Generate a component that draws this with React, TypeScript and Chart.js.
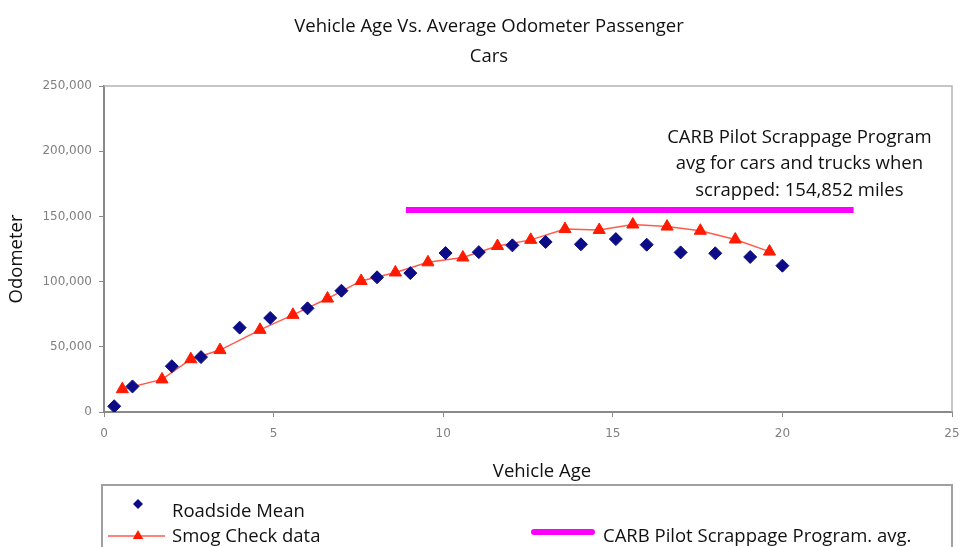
import React, { useEffect, useRef } from "react";
import { Chart, registerables } from "chart.js";

Chart.register(...registerables);

// ---------- Data ----------
const TITLE_LINES = ["Vehicle Age Vs. Average Odometer Passenger", "Cars"];
const X_TITLE = "Vehicle Age";
const Y_TITLE = "Odometer";
const NOTE_LINES = [
  "CARB Pilot Scrappage Program",
  "avg for cars and trucks when",
  "scrapped: 154,852 miles",
];

const roadsideLabel = "Roadside Mean";
const roadsideAge = [0.3, 0.84, 2, 2.86, 4, 4.9, 6, 7, 8.05, 9.03, 10.07, 11.05, 12.04, 13.02, 14.06, 15.09, 16, 17, 18.02, 19.05, 20];
const roadsideOdo = [4400, 19600, 35100, 42100, 64700, 72100, 79500, 93000, 103300, 106500, 121900, 122600, 127800, 130400, 128600, 132600, 128300, 122400, 121700, 118900, 112200];

const smogLabel = "Smog Check data";
const smogAge = [0.54, 1.71, 2.56, 3.42, 4.6, 5.57, 6.59, 7.58, 8.59, 9.55, 10.58, 11.6, 12.58, 13.59, 14.6, 15.59, 16.6, 17.58, 18.61, 19.62];
const smogOdo = [17500, 25000, 40500, 47500, 63000, 74500, 87000, 100500, 107000, 114800, 118500, 127300, 132000, 140300, 139600, 143800, 142200, 139000, 132300, 123000];

const scrapLabel = "CARB Pilot Scrappage Program. avg.";
const scrapAge = [8.9, 22.1];
const scrapAvg = 154852;

const X_TICKS = [0, 5, 10, 15, 20, 25];
const Y_MAX = 250000;
const Y_STEP = 50000;

// ---------- Styles ----------
const TEXT_FONT = "'Open Sans', 'Liberation Sans', sans-serif";
const TEXT_SIZE = 18.5;
const TICK_FONT = "'DejaVu Sans', 'Liberation Sans', sans-serif";
const NAVY = "#0c0c86";
const RED = "#ff1a00";
const RED_LINE = "#ff5a4a";
const MAGENTA = "#ff00ff";
const AXIS_GRAY = "#8a8a8a";
const FRAME_GRAY = "#b4b4b4";
const TICK_COLOR = "#808080";

function drawDiamond(ctx: CanvasRenderingContext2D, x: number, y: number, r: number, color: string) {
  ctx.fillStyle = color;
  ctx.beginPath();
  ctx.moveTo(x, y - r);
  ctx.lineTo(x + r, y);
  ctx.lineTo(x, y + r);
  ctx.lineTo(x - r, y);
  ctx.closePath();
  ctx.fill();
}

function drawTriangle(ctx: CanvasRenderingContext2D, x: number, y: number, r: number, color: string) {
  ctx.fillStyle = color;
  ctx.beginPath();
  ctx.moveTo(x, y - r);
  ctx.lineTo(x + r * 0.866, y + r * 0.5);
  ctx.lineTo(x - r * 0.866, y + r * 0.5);
  ctx.closePath();
  ctx.fill();
}

const decorPlugin = {
  id: "decor",
  beforeDatasetsDraw(chart: any) {
    const { ctx, chartArea } = chart;
    ctx.save();
    ctx.strokeStyle = FRAME_GRAY;
    ctx.lineWidth = 1.5;
    ctx.beginPath();
    ctx.moveTo(chartArea.left, chartArea.top);
    ctx.lineTo(chartArea.right, chartArea.top);
    ctx.lineTo(chartArea.right, chartArea.bottom);
    ctx.stroke();
    ctx.restore();
  },
  afterDraw(chart: any) {
    const { ctx, scales } = chart;
    ctx.save();
    ctx.fillStyle = "#111";
    ctx.textAlign = "center";
    ctx.textBaseline = "middle";
    ctx.font = `${TEXT_SIZE}px ${TEXT_FONT}`;

    // chart title
    TITLE_LINES.forEach((t, i) => ctx.fillText(t, 489, 27 + i * 30));

    // x title
    ctx.fillText(X_TITLE, 542, 472);

    // y title
    ctx.save();
    ctx.translate(17, 259);
    ctx.rotate(-Math.PI / 2);
    ctx.fillText(Y_TITLE, 0, 0);
    ctx.restore();

    // annotation (anchored in data space)
    const nx = scales.x.getPixelForValue(20.5);
    const ny = scales.y.getPixelForValue(210500);
    NOTE_LINES.forEach((t, i) => ctx.fillText(t, nx, ny + i * 26.5));

    // legend
    const ds = chart.data.datasets;
    ctx.strokeStyle = "#a0a0a0";
    ctx.lineWidth = 2;
    ctx.beginPath();
    ctx.moveTo(102, 560);
    ctx.lineTo(102, 485);
    ctx.lineTo(952, 485);
    ctx.lineTo(952, 560);
    ctx.stroke();

    ctx.textAlign = "left";

    // item 1: Roadside
    drawDiamond(ctx, 138, 504, 5, ds[0].backgroundColor);
    ctx.fillStyle = "#111";
    ctx.fillText(ds[0].label, 172, 512);

    // item 2: Smog
    ctx.strokeStyle = ds[1].borderColor;
    ctx.lineWidth = 1.5;
    ctx.beginPath();
    ctx.moveTo(108, 536);
    ctx.lineTo(165, 536);
    ctx.stroke();
    drawTriangle(ctx, 138, 536, 6, ds[1].pointBackgroundColor);
    ctx.fillStyle = "#111";
    ctx.fillText(ds[1].label, 172, 537);

    // item 3: Scrappage
    ctx.strokeStyle = ds[2].borderColor;
    ctx.lineWidth = 6;
    ctx.lineCap = "round";
    ctx.beginPath();
    ctx.moveTo(534, 532);
    ctx.lineTo(592, 532);
    ctx.stroke();
    ctx.fillStyle = "#111";
    ctx.fillText(ds[2].label, 603, 537);

    ctx.restore();
  },
};

export default function App() {
  const ref = useRef<HTMLCanvasElement | null>(null);

  useEffect(() => {
    if (!ref.current) return;
    const chart = new Chart(ref.current, {
      type: "scatter",
      data: {
        datasets: [
          {
            label: roadsideLabel,
            data: roadsideAge.map((x, i) => ({ x, y: roadsideOdo[i] })),
            pointStyle: "rectRot",
            pointRadius: 6.5,
            backgroundColor: NAVY,
            borderColor: NAVY,
            borderWidth: 1,
            showLine: false,
          },
          {
            label: smogLabel,
            data: smogAge.map((x, i) => ({ x, y: smogOdo[i] })),
            showLine: true,
            borderColor: RED_LINE,
            borderWidth: 1.5,
            pointStyle: "triangle",
            pointRadius: 7,
            pointBackgroundColor: RED,
            pointBorderColor: RED,
            pointBorderWidth: 1,
            backgroundColor: RED,
          },
          {
            label: scrapLabel,
            data: scrapAge.map((x) => ({ x, y: scrapAvg })),
            showLine: true,
            borderColor: MAGENTA,
            backgroundColor: MAGENTA,
            borderWidth: 6,
            pointRadius: 0,
          },
        ] as any,
      },
      options: {
        animation: false,
        responsive: false,
        layout: { padding: { left: 0, right: 3, top: 86, bottom: 95 } },
        plugins: {
          legend: { display: false },
          title: { display: false },
          tooltip: { enabled: false },
        },
        scales: {
          x: {
            type: "linear",
            min: 0,
            max: 25,
            afterFit: (s: any) => {
              s.height = 40;
              s.paddingRight = 0;
            },
            afterBuildTicks: (s: any) => {
              s.ticks = X_TICKS.map((v) => ({ value: v }));
            },
            ticks: {
              color: TICK_COLOR,
              font: { family: TICK_FONT, size: 12 },
              padding: 10,
              maxRotation: 0,
            },
            grid: {
              drawOnChartArea: false,
              drawTicks: true,
              tickLength: 5,
              tickColor: AXIS_GRAY,
            },
            border: { color: AXIS_GRAY, width: 2 },
          },
          y: {
            type: "linear",
            min: 0,
            max: Y_MAX,
            afterFit: (s: any) => {
              s.width = 104;
            },
            ticks: {
              stepSize: Y_STEP,
              color: TICK_COLOR,
              font: { family: TICK_FONT, size: 12 },
              padding: 7,
              callback: (v: any) => Number(v).toLocaleString("en-US"),
            },
            grid: {
              drawOnChartArea: false,
              drawTicks: true,
              tickLength: 5,
              tickColor: AXIS_GRAY,
            },
            border: { color: AXIS_GRAY, width: 2 },
          },
        },
      },
      plugins: [decorPlugin],
    });
    return () => chart.destroy();
  }, []);

  return (
    <div style={{ position: "absolute", left: 0, top: 0, width: 960, height: 547, background: "#fff" }}>
      <canvas ref={ref} width={960} height={547} style={{ display: "block" }} />
    </div>
  );
}
